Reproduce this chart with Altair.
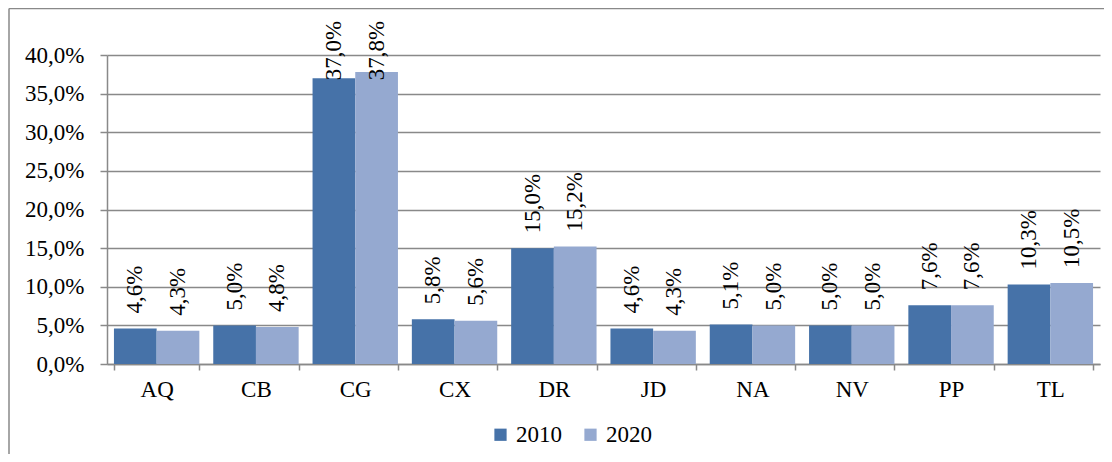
import altair as alt
import pandas as pd

categories = ["AQ", "CB", "CG", "CX", "DR", "JD", "NA", "NV", "PP", "TL"]
years = ["2010", "2020"]
v2010 = [4.6, 5.0, 37.0, 5.8, 15.0, 4.6, 5.1, 5.0, 7.6, 10.3]
v2020 = [4.3, 4.8, 37.8, 5.6, 15.2, 4.3, 5.0, 5.0, 7.6, 10.5]
y_ticks = [0, 5, 10, 15, 20, 25, 30, 35, 40]
colors = ["#4672A8", "#95A9D0"]

rows = []
for c, a, b in zip(categories, v2010, v2020):
    rows.append({"cat": c, "year": "2010", "v": a})
    rows.append({"cat": c, "year": "2020", "v": b})
df = pd.DataFrame(rows)

FONT = "Liberation Serif"
GRAY = "#898989"
FS = 23

x_axis = alt.Axis(title=None, tickBand="extent", labelAngle=0, labelFont=FONT,
                  labelFontSize=FS, labelColor="black", labelPadding=8, tickSize=6,
                  tickColor=GRAY, tickWidth=1.5, domainColor=GRAY, domainWidth=1.5,
                  grid=False)
x_scale = alt.Scale(paddingInner=0.14, paddingOuter=0.07)
xoff = alt.XOffset("year:N", sort=years, scale=alt.Scale(paddingInner=0, paddingOuter=0))
y_axis = alt.Axis(
    title=None, values=y_ticks, labelOverlap=False,
    labelExpr="replace(format(datum.value, '.1f'), '.', ',') + '%'",
    labelFont=FONT, labelFontSize=FS, labelColor="black", labelPadding=16,
    tickSize=7, tickColor=GRAY, tickWidth=1.5, domainColor=GRAY, domainWidth=1.5,
    grid=True, gridColor=GRAY, gridWidth=1.5,
)
y_scale = alt.Scale(domain=[0, 40])

base = alt.Chart(df)

bars = base.mark_bar().encode(
    x=alt.X("cat:N", sort=categories, scale=x_scale, axis=x_axis),
    xOffset=xoff,
    y=alt.Y("v:Q", scale=y_scale, axis=y_axis),
    color=alt.Color(
        "year:N", sort=years,
        scale=alt.Scale(domain=years, range=colors),
        legend=alt.Legend(
            title=None, orient="none", legendX=382, legendY=368, direction="horizontal",
            symbolType="square", symbolSize=150, symbolStrokeWidth=0,
            labelFont=FONT, labelFontSize=FS, labelColor="black",
            labelOffset=4, columnPadding=17,
        ),
    ),
)

labels = base.transform_calculate(
    ly="min(datum.v, 34.8)",
    lab="replace(format(datum.v, '.1f'), '.', ',') + '%'",
).mark_text(
    angle=270, align="left", baseline="middle", dx=15,
    font=FONT, fontSize=FS, color="black",
).encode(
    x=alt.X("cat:N", sort=categories, scale=x_scale, axis=x_axis),
    xOffset=xoff,
    y=alt.Y("ly:Q", scale=y_scale, axis=y_axis),
    text="lab:N",
)

frame_df = pd.DataFrame({"k": [0]})
left_border = alt.Chart(frame_df).mark_rule(color=GRAY, strokeWidth=1.5).encode(
    x=alt.value(-98), y=alt.value(-46.5), y2=alt.value(400)
)
top_border = alt.Chart(frame_df).mark_rule(color=GRAY, strokeWidth=1.5).encode(
    x=alt.value(-98), x2=alt.value(1100), y=alt.value(-46.5)
)

chart = alt.layer(bars, labels, left_border, top_border).properties(
    width=993, height=309,
    padding={"left": 99, "top": 47, "right": 4, "bottom": 90},
    autosize="none",
).configure_view(
    stroke="transparent"
).configure_legend(
    labelFont=FONT, labelFontSize=FS, labelColor="black"
).configure_text(font=FONT)

chart.save("out.html", embed_options={"renderer": "svg", "actions": False})
